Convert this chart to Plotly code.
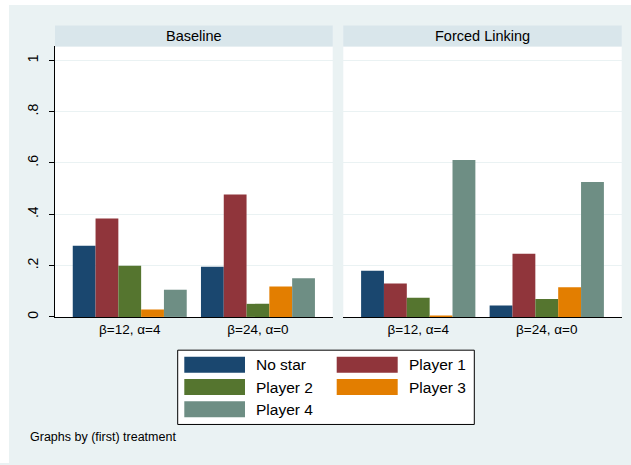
import plotly.graph_objects as go

W, H = 631, 465

panels = ["Baseline", "Forced Linking"]
categories = ["β=12, α=4", "β=24, α=0"]
series = ["No star", "Player 1", "Player 2", "Player 3", "Player 4"]
colors = ["#1A476F", "#90353B", "#55752F", "#E37E00", "#6E8E84"]

baseline_vals = {
    "No star": [0.277, 0.196],
    "Player 1": [0.384, 0.477],
    "Player 2": [0.199, 0.051],
    "Player 3": [0.029, 0.119],
    "Player 4": [0.106, 0.151],
}
forced_vals = {
    "No star": [0.180, 0.045],
    "Player 1": [0.130, 0.246],
    "Player 2": [0.075, 0.070],
    "Player 3": [0.004, 0.116],
    "Player 4": [0.612, 0.526],
}
panel_vals = [baseline_vals, forced_vals]

ytick_vals = [0, 0.2, 0.4, 0.6, 0.8, 1.0]
ytick_text = ["0", ".2", ".4", ".6", ".8", "1"]

FONT = "Liberation Sans, Arial, sans-serif"

def px_x(p):
    return p / W

def px_y(p):
    return 1 - p / H

fig = go.Figure()
xpos = list(range(len(categories)))
for pi, vals in enumerate(panel_vals):
    xa = "x" if pi == 0 else "x2"
    ya = "y" if pi == 0 else "y2"
    for s, c in zip(series, colors):
        fig.add_trace(go.Bar(
            x=xpos, y=vals[s], name=s, marker=dict(color=c, line=dict(width=0)),
            xaxis=xa, yaxis=ya, showlegend=False, hoverinfo="skip",
        ))

panel_x = [(55, 332.7), (343.3, 621.7)]
plot_top, plot_bot = 46.7, 318.3

axis_common = dict(
    range=[-0.583, 1.583], tickvals=xpos, ticktext=categories,
    showline=True, linecolor="#000000", linewidth=1, ticks="",
    showgrid=False, zeroline=False, fixedrange=True,
    tickfont=dict(family=FONT, size=13.5, color="#000000"),
)
yaxis_common = dict(
    range=[0, 1.054], tickvals=ytick_vals, showgrid=True,
    gridcolor="#EAF2F3", gridwidth=1, zeroline=False, fixedrange=True,
    domain=[px_y(plot_bot), px_y(plot_top)],
)

fig.update_layout(
    width=W, height=H,
    margin=dict(l=0, r=0, t=0, b=0),
    paper_bgcolor="#EAF2F3", plot_bgcolor="#FFFFFF",
    barmode="group", bargap=0.111, bargroupgap=0,
    showlegend=False,
    xaxis=dict(domain=[px_x(panel_x[0][0]), px_x(panel_x[0][1])], anchor="y", **axis_common),
    xaxis2=dict(domain=[px_x(panel_x[1][0]), px_x(panel_x[1][1])], anchor="y2", **axis_common),
    yaxis=dict(anchor="x", ticktext=ytick_text, tickangle=-90, ticks="outside", ticklen=5,
               tickcolor="#000000", showline=True, linecolor="#000000", linewidth=1,
               ticklabelstandoff=5,
               tickfont=dict(family=FONT, size=14, color="#000000"), **yaxis_common),
    yaxis2=dict(anchor="x2", showticklabels=False, ticks="", showline=False, **yaxis_common),
)

shapes = []
annotations = []

# white outer border (image crop)
shapes.append(dict(type="rect", xref="paper", yref="paper", x0=0, x1=px_x(9), y0=0, y1=1,
                   fillcolor="#FFFFFF", line=dict(width=0), layer="below"))
shapes.append(dict(type="rect", xref="paper", yref="paper", x0=0, x1=1, y0=px_y(5), y1=1,
                   fillcolor="#FFFFFF", line=dict(width=0), layer="below"))

# strips
for (x0, x1), title in zip(panel_x, panels):
    shapes.append(dict(type="rect", xref="paper", yref="paper",
                       x0=px_x(x0), x1=px_x(x1), y0=px_y(46.7), y1=px_y(25.7),
                       fillcolor="#D9E6EB", line=dict(width=0)))
    annotations.append(dict(text=title, xref="paper", yref="paper",
                            x=px_x((x0 + x1) / 2), y=px_y(36.2), showarrow=False,
                            xanchor="center", yanchor="middle",
                            font=dict(family=FONT, size=14.5, color="#000000")))

# legend box
shapes.append(dict(type="rect", xref="paper", yref="paper",
                   x0=px_x(177.7), x1=px_x(474.3), y0=px_y(426.3), y1=px_y(351.7),
                   fillcolor="#FFFFFF", line=dict(color="#000000", width=1)))
key_cols = [(184.3, 245.0, 254.3), (336.7, 397.7, 406.7)]
row_centers = [366.3, 388.7, 411.0]
for i, (s, c) in enumerate(zip(series, colors)):
    r, col = divmod(i, 2)
    kx0, kx1, tx = key_cols[col]
    yc = row_centers[r]
    shapes.append(dict(type="rect", xref="paper", yref="paper",
                       x0=px_x(kx0), x1=px_x(kx1), y0=px_y(yc + 8), y1=px_y(yc - 8),
                       fillcolor=c, line=dict(width=0)))
    annotations.append(dict(text=s, xref="paper", yref="paper", x=px_x(tx), y=px_y(yc),
                            showarrow=False, xanchor="left", yanchor="middle",
                            font=dict(family=FONT, size=15.5, color="#000000")))

annotations.append(dict(text="Graphs by (first) treatment", xref="paper", yref="paper",
                        x=px_x(28), y=px_y(439), showarrow=False, xanchor="left",
                        yanchor="middle", font=dict(family=FONT, size=12.5, color="#000000")))

fig.update_layout(shapes=shapes, annotations=annotations)
fig.write_html("out.html")
